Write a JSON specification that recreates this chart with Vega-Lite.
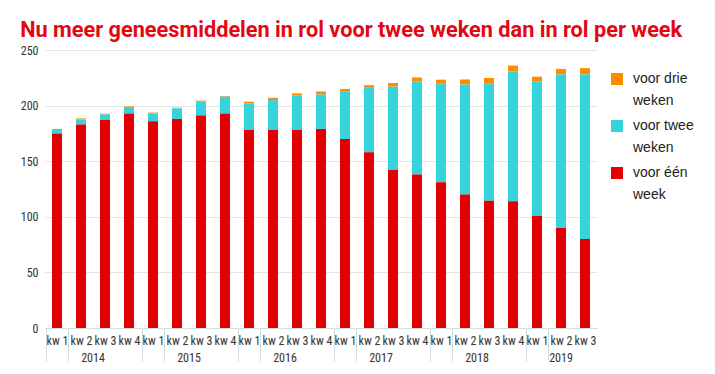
{
  "$schema": "https://vega.github.io/schema/vega-lite/v6.json",
  "padding": {"left": 20, "top": 20, "right": 5, "bottom": 5},
  "bounds": "flush",
  "title": {
    "text": "Nu meer geneesmiddelen in rol voor twee weken dan in rol per week",
    "anchor": "start",
    "color": "#e30613",
    "font": "Roboto",
    "fontSize": 21.7,
    "fontWeight": "bold",
    "offset": 2
  },
  "data": {
    "values": [
      {"year": "2014", "week": "kw 1", "voor één week": 175, "voor twee weken": 3, "voor drie weken": 1},
      {"year": "2014", "week": "kw 2", "voor één week": 183, "voor twee weken": 4.5, "voor drie weken": 1},
      {"year": "2014", "week": "kw 3", "voor één week": 187, "voor twee weken": 5, "voor drie weken": 0.7},
      {"year": "2014", "week": "kw 4", "voor één week": 193, "voor twee weken": 5, "voor drie weken": 1.3},
      {"year": "2015", "week": "kw 1", "voor één week": 186, "voor twee weken": 7, "voor drie weken": 0.7},
      {"year": "2015", "week": "kw 2", "voor één week": 188, "voor twee weken": 9.5, "voor drie weken": 0.6},
      {"year": "2015", "week": "kw 3", "voor één week": 191, "voor twee weken": 12.5, "voor drie weken": 1},
      {"year": "2015", "week": "kw 4", "voor één week": 193, "voor twee weken": 15, "voor drie weken": 0.6},
      {"year": "2016", "week": "kw 1", "voor één week": 178, "voor twee weken": 24, "voor drie weken": 1.5},
      {"year": "2016", "week": "kw 2", "voor één week": 178, "voor twee weken": 27, "voor drie weken": 2},
      {"year": "2016", "week": "kw 3", "voor één week": 178, "voor twee weken": 31, "voor drie weken": 2},
      {"year": "2016", "week": "kw 4", "voor één week": 179, "voor twee weken": 31, "voor drie weken": 2.7},
      {"year": "2017", "week": "kw 1", "voor één week": 170, "voor twee weken": 43, "voor drie weken": 2},
      {"year": "2017", "week": "kw 2", "voor één week": 158, "voor twee weken": 58, "voor drie weken": 2.4},
      {"year": "2017", "week": "kw 3", "voor één week": 142, "voor twee weken": 75, "voor drie weken": 3.3},
      {"year": "2017", "week": "kw 4", "voor één week": 138, "voor twee weken": 84, "voor drie weken": 3.3},
      {"year": "2018", "week": "kw 1", "voor één week": 131, "voor twee weken": 89, "voor drie weken": 3.3},
      {"year": "2018", "week": "kw 2", "voor één week": 120, "voor twee weken": 99, "voor drie weken": 4.5},
      {"year": "2018", "week": "kw 3", "voor één week": 114.5, "voor twee weken": 105.5, "voor drie weken": 4.8},
      {"year": "2018", "week": "kw 4", "voor één week": 114, "voor twee weken": 117, "voor drie weken": 5},
      {"year": "2019", "week": "kw 1", "voor één week": 101, "voor twee weken": 121, "voor drie weken": 4},
      {"year": "2019", "week": "kw 2", "voor één week": 90, "voor twee weken": 138, "voor drie weken": 5},
      {"year": "2019", "week": "kw 3", "voor één week": 80, "voor twee weken": 148, "voor drie weken": 5.7}
    ]
  },
  "transform": [
    {"fold": ["voor drie weken", "voor twee weken", "voor één week"], "as": ["type", "value"]}
  ],
  "facet": {
    "column": {
      "field": "year",
      "type": "ordinal",
      "header": {
        "title": null,
        "labelOrient": "bottom",
        "labelPadding": 25,
        "labelFontSize": 12,
        "labelColor": "#333333",
        "labelFont": "Roboto Condensed, DejaVu Sans Condensed"
      }
    }
  },
  "spacing": 0,
  "resolve": {"scale": {"x": "independent"}},
  "spec": {
    "width": {"step": 24},
    "height": 278,
    "mark": {"type": "bar", "width": 10},
    "encoding": {
      "x": {
        "field": "week",
        "type": "nominal",
        "title": null,
        "axis": {
          "labelAngle": 0,
          "labelFontSize": 12,
          "labelColor": "#333333",
          "labelFont": "Roboto Condensed, DejaVu Sans Condensed",
          "labelPadding": -27,
          "domainColor": "#d5dfdf",
          "tickBand": "extent",
          "tickSize": 34,
          "tickColor": "#d5dfdf",
          "tickOpacity": {"condition": {"test": "datum.index === 0 || datum.index === -1", "value": 1}, "value": 0}
        }
      },
      "y": {
        "field": "value",
        "type": "quantitative",
        "stack": "zero",
        "title": null,
        "scale": {"domain": [0, 250]},
        "axis": {
          "values": [0, 50, 100, 150, 200, 250],
          "domain": false,
          "ticks": false,
          "labelPadding": 7,
          "gridColor": "#dfe6e6",
          "labelFontSize": 12,
          "labelColor": "#333333",
          "labelFont": "Roboto Condensed, DejaVu Sans Condensed"
        }
      },
      "color": {
        "field": "type",
        "type": "nominal",
        "scale": {
          "domain": ["voor drie weken", "voor twee weken", "voor één week"],
          "range": ["#ff8c00", "#35d4dc", "#e40000"]
        },
        "legend": {
          "title": null,
          "orient": "right",
          "offset": -10,
          "padding": 22,
          "symbolType": "square",
          "symbolSize": 144,
          "symbolStrokeWidth": 0,
          "labelOffset": 9,
          "labelFontSize": 14,
          "labelColor": "#222222",
          "labelFont": "Liberation Sans, sans-serif",
          "labelExpr": "[slice(datum.label, 0, lastindexof(datum.label, ' ')), slice(datum.label, lastindexof(datum.label, ' ') + 1)]",
          "rowPadding": 11
        }
      },
      "order": {"field": "type", "sort": "descending"}
    }
  },
  "config": {
    "view": {"stroke": "transparent"},
    "style": {"guide-label": {"lineHeight": 22}}
  }
}
